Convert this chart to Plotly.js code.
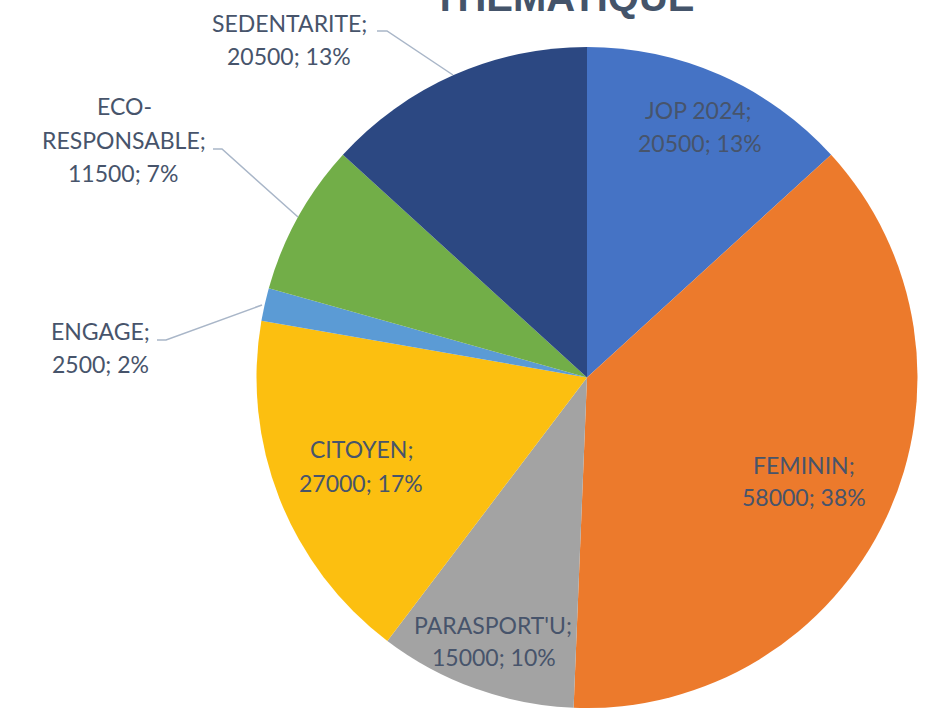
<!DOCTYPE html>
<html>
<head>
<meta charset="utf-8">
<script src="https://cdn.plot.ly/plotly-3.0.1.min.js"></script>
<style>html,body{margin:0;padding:0;background:#fff;}#chart{width:937px;height:708px;}</style>
</head>
<body>
<div id="chart"></div>
<script>
// ---- data ----
var categories = ["JOP 2024", "FEMININ", "PARASPORT'U", "CITOYEN", "ENGAGE", "ECO-RESPONSABLE", "SEDENTARITE"];
var values = [20500, 58000, 15000, 27000, 2500, 11500, 20500];
var percentLabels = [13, 38, 10, 17, 2, 7, 13];
var chartTitle = "THEMATIQUE";

// ---- styles ----
var colors = ["#4573C5", "#EC7A2C", "#A3A3A3", "#FCBF10", "#5B9BD5", "#72AE48", "#2C4882"];
var textColor = "#47546B";
var W = 937, H = 708;
function px(x){ return x / W; }
function py(y){ return 1 - y / H; }

// label line positions (pixel centres), one entry per text line
var labelLines = [
  [[698, 110], [700, 143]],
  [[804, 465], [804, 497]],
  [[493, 625], [494, 657]],
  [[361, 449], [361, 483]],
  [[100, 331], [100, 364]],
  [[124, 106], [124, 140], [123, 173]],
  [[289, 23], [289, 56]]
];
// leader lines for outside labels (pixel paths)
var leaders = {
  4: [[157, 340], [166, 340], [262, 305]],
  5: [[213, 149], [222, 149], [298, 217]],
  6: [[377, 31], [387, 31], [453, 75]]
};

function textLinesFor(i) {
  var name = categories[i];
  var second = values[i] + "; " + percentLabels[i] + "%";
  var parts;
  if (name.indexOf("-") > 0) {
    var k = name.indexOf("-");
    parts = [name.slice(0, k + 1), name.slice(k + 1) + ";", second];
  } else {
    parts = [name + ";", second];
  }
  return parts;
}

var annotations = [];
var shapes = [];
for (var i = 0; i < categories.length; i++) {
  var lines = textLinesFor(i);
  for (var j = 0; j < lines.length; j++) {
    var p = labelLines[i][j];
    annotations.push({
      text: lines[j], x: px(p[0]), y: py(p[1]), xref: "paper", yref: "paper",
      xanchor: "center", yanchor: "middle", showarrow: false,
      font: {family: "Lato, 'Liberation Sans', sans-serif", size: 23, color: textColor}
    });
  }
  if (leaders[i]) {
    var pts = leaders[i];
    var d = "M" + px(pts[0][0]) + "," + py(pts[0][1]);
    for (var k = 1; k < pts.length; k++) d += " L" + px(pts[k][0]) + "," + py(pts[k][1]);
    shapes.push({type: "path", path: d, xref: "paper", yref: "paper",
      line: {color: "#A9B6C8", width: 1.5}});
  }
}
annotations.push({
  text: "<b>" + chartTitle + "</b>", x: px(563), y: py(11), xref: "paper", yref: "paper",
  xanchor: "center", yanchor: "bottom", showarrow: false, yshift: -10,
  font: {family: "'Liberation Sans', Arial, sans-serif", size: 40, color: "#44546A"}
});

var trace = {
  type: "pie",
  labels: categories,
  values: values,
  sort: false,
  direction: "clockwise",
  rotation: 0,
  textinfo: "none",
  hoverinfo: "label+value+percent",
  marker: {colors: colors, line: {width: 0}},
  domain: {x: [256 / W, 918 / W], y: [0, 1 - 47 / H]},
  showlegend: false
};

var layout = {
  width: W, height: H,
  margin: {l: 0, r: 0, t: 0, b: 0},
  paper_bgcolor: "#ffffff",
  showlegend: false,
  annotations: annotations,
  shapes: shapes
};

Plotly.newPlot("chart", [trace], layout, {displayModeBar: false, staticPlot: true});
</script>
</body>
</html>
